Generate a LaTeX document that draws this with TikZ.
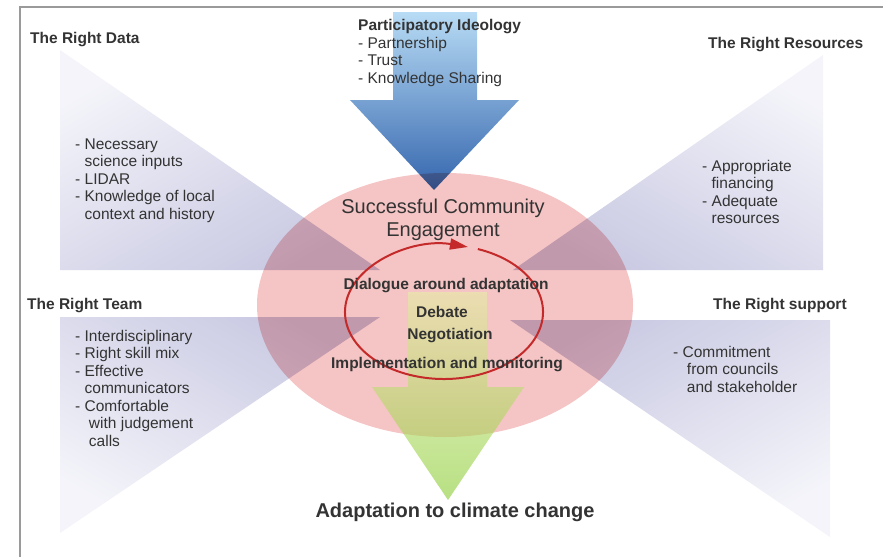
\documentclass[tikz,border=0pt]{standalone}
\usepackage{fontspec}
\setmainfont{Liberation Sans}
\usepackage{xcolor}
\usetikzlibrary{arrows.meta, positioning}

\definecolor{ink}{HTML}{333333}
\definecolor{framegray}{HTML}{9A9A9A}
\definecolor{lav}{HTML}{C8C8E2}
\definecolor{lavpale}{HTML}{F4F4FA}
\definecolor{blush}{HTML}{F5C4C4}
\definecolor{loopred}{HTML}{C42A2A}
\definecolor{skytop}{HTML}{B8DCF5}
\definecolor{skymid}{HTML}{78BDEB}
\definecolor{skybot}{HTML}{3566AE}
\definecolor{leaftop}{HTML}{E6EEA6}
\definecolor{leafbot}{HTML}{88CB30}

\newcommand{\gap}{\hphantom{- }}

\begin{document}
\begin{tikzpicture}[x=1pt, y=-1pt]
	\tikzset{
		title/.style={font=\fontsize{15.5}{17.5}\selectfont\bfseries, text=ink, anchor=base west, inner sep=0pt},
		points/.style={font=\fontsize{15.5}{17.5}\selectfont, text=ink, anchor=base west, align=left, inner sep=0pt},
		stage/.style={font=\fontsize{15.5}{17.5}\selectfont\bfseries, text=ink, anchor=base, inner sep=0pt},
		wedge/.style={shading=axis, draw=none}
	}
	\useasboundingbox (0,0) rectangle (883,557);
	\draw[framegray, line width=1.5pt] (20,557) -- (20,7) -- (883,7);

	% the four wedges
	\shade[wedge, top color=lavpale, bottom color=lav, shading angle=30] (60,50) -- (60,270) -- (380,270) -- cycle;
	\shade[wedge, top color=lavpale, bottom color=lav, shading angle=-30] (823,55) -- (823,270) -- (513,270) -- cycle;
	\shade[wedge, top color=lav, bottom color=lavpale, shading angle=-30] (60,317) -- (380,317) -- (60,533) -- cycle;
	\shade[wedge, top color=lav, bottom color=lavpale, shading angle=30] (510,320) -- (830,320) -- (830,537) -- cycle;

	% input arrow
	\shade[top color=skytop, middle color=skymid, bottom color=skybot] (393,12) -- (477,12) -- (477,100) -- (519,100) -- (434,190) -- (350,100) -- (393,100) -- cycle;

	\begin{scope}[blend mode=multiply]
		\fill[blush] (445,305) ellipse [x radius=188, y radius=132];
	\end{scope}

	% outcome arrow
	\shade[top color=leaftop, bottom color=leafbot, fill opacity=0.6] (408,292) -- (487,292) -- (487,387) -- (524,387) -- (448,500) -- (372,387) -- (408,387) -- cycle;

	% cycle
	\draw[loopred, line width=2pt, -{Triangle[length=18pt, width=11pt]}] (444,312) ++(-70:99 and 67) arc[start angle=-70, end angle=284, x radius=99, y radius=67];

	\node[title](data) at (30,43) {The Right Data};
	\node[points](datalist) at (75,219) {- Necessary\\\gap science inputs\\- LIDAR\\- Knowledge of local\\\gap context and history};
	\node[title](resources) at (708,48) {The Right Resources};
	\node[points](reslist) at (702,223.5) {- Appropriate\\\gap financing\\- Adequate\\\gap resources};
	\node[title](team) at (27,309) {The Right Team};
	\node[points](teamlist) at (75,446) {- Interdisciplinary\\- Right skill mix\\- Effective\\\gap communicators\\- Comfortable\\\gap\ with judgement\\\gap\ calls};
	\node[title](support) at (713,309) {The Right support};
	\node[points](supplist) at (673,392) {- Commitment\\\gap\ from councils\\\gap\ and stakeholder};
	\node[points](ideology) at (358,83) {\textbf{Participatory Ideology}\\- Partnership\\- Trust\\- Knowledge Sharing};

	\node[font=\fontsize{20}{23}\selectfont, text=ink, align=center, anchor=base, inner sep=0pt](engage) at (443,236) {Successful Community\\Engagement};
	\node[stage](dialogue) at (446,289) {Dialogue around adaptation};
	\node[stage](debate) at (442,317) {Debate};
	\node[stage](negotiate) at (450,339) {Negotiation};
	\node[stage](implement) at (447,368) {Implementation and monitoring};
	\node[stage, font=\fontsize{20}{23}\selectfont\bfseries](outcome) at (455,517) {Adaptation to climate change};
\end{tikzpicture}
\end{document}
